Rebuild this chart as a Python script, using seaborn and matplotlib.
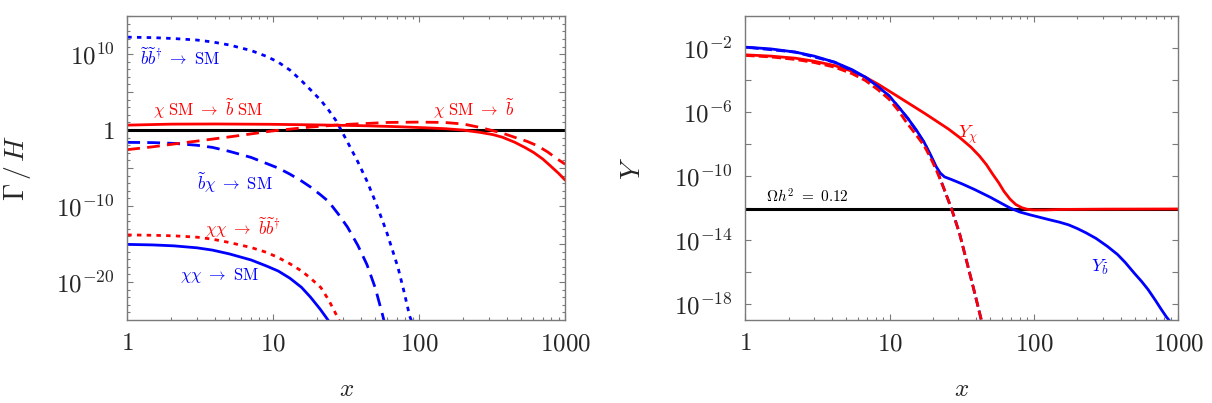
import numpy as np
import matplotlib
matplotlib.use("Agg")
import matplotlib.pyplot as plt
import matplotlib.ticker as mticker
import seaborn as sns

sns.set_style("ticks")
plt.rcParams["mathtext.fontset"] = "cm"
plt.rcParams["font.family"] = ["DejaVu Serif"]

# ---- left panel: Gamma/H (values stored as log10 exponents)
x_bb_sm = [1, 1.5, 2.08, 3, 3.83, 5, 7.05, 9, 10.8, 13, 15.6, 18, 21.2, 24, 27, 32.3, 38, 43.8, 50,
           59.5, 65, 71.5, 78, 86, 90]
e_bb_sm = [12.23, 12.17, 12.05, 11.85, 11.6, 11.2, 10.47, 9.7, 8.95, 7.9, 6.5, 5.3, 3.9, 2.6, 1.2, -1.6,
           -4.2, -6.7, -9.4, -13.3, -15.6, -18.1, -21.0, -24.5, -25.5]

x_chism_bsm = [1, 2, 4, 9.5, 20, 40, 70, 110, 150, 200, 260, 320, 372, 450, 530, 607, 700, 790, 900, 1000]
e_chism_bsm = [0.65, 0.78, 0.8, 0.76, 0.68, 0.58, 0.45, 0.3, 0.18, 0.0, -0.3, -0.6, -0.95, -1.6, -2.3,
               -2.95, -3.8, -4.7, -5.7, -6.6]

x_chism_b = [1, 1.5, 2.08, 3, 5, 10, 18, 30, 60, 100, 149, 200, 260, 307, 370, 450, 550, 650, 760, 880, 1000]
e_chism_b = [-2.58, -2.2, -1.84, -1.45, -0.9, -0.1, 0.4, 0.72, 1.0, 1.05, 1.0, 0.8, 0.35, 0.0, -0.4, -0.95,
             -1.5, -2.1, -2.9, -3.8, -4.5]

x_bchi_sm = [1, 1.5, 2.08, 3, 3.83, 5, 7.05, 9, 10.8, 13, 15.6, 18, 21, 23.9, 28, 32.3, 38, 43.8, 50, 56, 58]
e_bchi_sm = [-1.62, -1.65, -1.75, -2.0, -2.28, -2.8, -3.6, -4.4, -5.0, -5.8, -6.7, -7.5, -8.5, -9.4, -11.1,
             -12.8, -15.2, -17.7, -20.8, -24.3, -25.5]

x_chichi_bb = [1, 1.5, 2.08, 3, 3.83, 5, 7.05, 9, 10.8, 13, 15.6, 18, 21.2, 24, 27, 28.5]
e_chichi_bb = [-13.8, -13.85, -13.92, -14.1, -14.36, -14.8, -15.46, -16.1, -16.78, -17.6, -18.54, -19.5,
               -20.74, -22.4, -24.3, -25.2]

x_chichi_sm = [1, 1.5, 2.08, 3, 3.83, 5, 7.05, 9, 10.8, 13, 15.6, 18, 21, 23.9]
e_chichi_sm = [-15.05, -15.12, -15.24, -15.5, -15.8, -16.3, -17.1, -17.9, -18.55, -19.5, -20.7, -22.0,
               -23.6, -25.1]

gamma_ref = 1.0

# ---- right panel: yields Y
x_yb = [1, 1.5, 2.22, 3, 4.15, 5.5, 6.8, 8.3, 9.9, 11.6, 13.5, 15.4, 17.4, 19.3, 21, 22.4, 24, 26.9, 32,
        39, 50, 60, 68.5, 80, 93.6, 110, 128, 150, 174, 200, 230, 270, 324, 380, 430, 500, 560, 620, 700,
        760, 830, 900]
e_yb = [-1.94, -2.05, -2.25, -2.5, -2.88, -3.35, -3.82, -4.4, -4.98, -5.7, -6.44, -7.15, -7.91, -8.7,
        -9.4, -9.8, -10.05, -10.22, -10.5, -10.85, -11.33, -11.72, -12.0, -12.25, -12.42, -12.58, -12.73,
        -12.88, -13.05, -13.28, -13.55, -13.9, -14.4, -14.9, -15.4, -16.1, -16.6, -17.1, -17.8, -18.3,
        -18.81, -19.2]

x_ychi = [1, 1.5, 2.22, 3, 4.15, 5.5, 6.8, 8.3, 9.9, 12, 14.4, 17.5, 21, 25.5, 30.5, 36.7, 42, 47, 52,
          56.9, 62, 68.5, 75, 82.6, 90, 99.6, 120, 150, 300, 1000]
e_ychi = [-2.42, -2.5, -2.63, -2.82, -3.09, -3.45, -3.82, -4.25, -4.68, -5.15, -5.6, -6.08, -6.55, -7.05,
          -7.58, -8.2, -8.75, -9.3, -9.9, -10.4, -10.95, -11.45, -11.78, -11.98, -12.08, -12.12, -12.12,
          -12.09, -12.07, -12.06]

x_ychi_eq = [1, 1.5, 2.22, 3, 4.15, 5.5, 6.8, 8.3, 9.9, 11.5, 13.1, 15.2, 17.4, 19.2, 21, 23.7, 26.9,
             30.5, 34.5, 39, 43.5]
e_ychi_eq = [-2.46, -2.55, -2.71, -2.9, -3.19, -3.6, -4.03, -4.6, -5.19, -5.9, -6.65, -7.4, -8.12, -8.85,
             -9.59, -10.74, -12.06, -13.57, -15.46, -17.35, -19.1]

x_yb_eq = [1, 2.22, 4.15, 6.8, 9.9, 13.5, 17.4, 21, 23.7, 26.9, 30.5, 34.5, 39, 43.5]
e_yb_eq = [-1.94, -2.25, -2.88, -3.82, -4.98, -6.44, -7.91, -9.48, -10.74, -12.06, -13.57, -15.46, -17.35,
           -19.1]

omega_y = 8.7e-13

RED = "#ff0000"
BLUE = "#0000ff"
FRAME = "#7a7a7a"


def curve(ax, xs, es, color, ls="-", lw=2.0):
    sns.lineplot(x=np.array(xs, float), y=10.0 ** np.array(es, float), ax=ax,
                 color=color, linestyle=ls, lw=lw, sort=True, estimator=None)


def style_axes(ax, ymaj, ylab_vals, ymin_locs):
    ax.set_xscale("log")
    ax.set_yscale("log")
    ax.set_xlim(1, 1000)
    ax.xaxis.set_major_locator(mticker.FixedLocator([1, 10, 100, 1000]))
    ax.xaxis.set_major_formatter(mticker.FixedFormatter(["$1$", "$10$", "$100$", "$1000$"]))
    ax.xaxis.set_minor_locator(mticker.LogLocator(base=10, subs=np.arange(2, 10)))
    ax.xaxis.set_minor_formatter(mticker.NullFormatter())
    ax.yaxis.set_major_locator(mticker.FixedLocator([10.0 ** e for e in ymaj]))
    ax.yaxis.set_major_formatter(mticker.FixedFormatter(ylab_vals))
    ax.yaxis.set_minor_locator(mticker.FixedLocator([10.0 ** e for e in ymin_locs]))
    ax.yaxis.set_minor_formatter(mticker.NullFormatter())
    ax.tick_params(which="both", direction="in", top=True, right=True, color=FRAME, width=0.8)
    ax.tick_params(which="major", length=4.5, labelsize=18, pad=9)
    ax.tick_params(which="minor", length=2.5)
    for s in ax.spines.values():
        s.set_color(FRAME)
        s.set_linewidth(1.0)


fig = plt.figure(figsize=(12.12, 4.03), dpi=100)
ax1 = fig.add_axes([0.105, 0.206, 0.3614, 0.754])
ax2 = fig.add_axes([0.615, 0.206, 0.357, 0.754])

# ---------- left
ax1.axhline(gamma_ref, color="black", lw=2.2, zorder=1)
curve(ax1, x_bb_sm, e_bb_sm, BLUE, (0, (1.6, 1.9)))
curve(ax1, x_chichi_bb, e_chichi_bb, RED, (0, (1.6, 1.9)))
curve(ax1, x_chichi_sm, e_chichi_sm, BLUE)
curve(ax1, x_bchi_sm, e_bchi_sm, BLUE, (0, (4.6, 2.6)))
curve(ax1, x_chism_b, e_chism_b, RED, (0, (4.6, 2.6)))
curve(ax1, x_chism_bsm, e_chism_bsm, RED)

major_l = [-20, -15, -10, -5, 0, 5, 10, 15]
labels_l = [r"$10^{-20}$", "", r"$10^{-10}$", "", r"$1$", "", r"$10^{10}$", ""]
minor_l = [e for e in range(-25, 16) if e % 5 != 0]
style_axes(ax1, major_l, labels_l, minor_l)
ax1.set_ylim(1e-25, 1e15)

fs = 12
ax1.text(1.22, 10 ** 9.4, r"$\widetilde{b}\widetilde{b}^{\dagger}\ \to\ \mathrm{SM}$", color=BLUE, fontsize=fs, va="center")
ax1.text(1.5, 10 ** 2.8, r"$\chi\ \mathrm{SM}\ \to\ \widetilde{b}\ \mathrm{SM}$", color=RED, fontsize=fs, va="center")
ax1.text(124, 10 ** 2.8, r"$\chi\ \mathrm{SM}\ \to\ \widetilde{b}$", color=RED, fontsize=fs, va="center")
ax1.text(3.0, 10 ** -7.0, r"$\widetilde{b}\chi\ \to\ \mathrm{SM}$", color=BLUE, fontsize=fs, va="center")
ax1.text(3.4, 10 ** -12.9, r"$\chi\chi\ \to\ \widetilde{b}\widetilde{b}^{\dagger}$", color=RED, fontsize=fs, va="center")
ax1.text(2.3, 10 ** -19.2, r"$\chi\chi\ \to\ \mathrm{SM}$", color=BLUE, fontsize=fs, va="center")

ax1.set_xlabel(r"$x$", fontsize=18)
ax1.set_ylabel(r"$\Gamma\,/\,H$", fontsize=20)
ax1.xaxis.set_label_coords(0.5, -0.19)
ax1.yaxis.set_label_coords(-0.215, 0.5)

# ---------- right
ax2.axhline(omega_y, color="black", lw=2.2, zorder=1)
curve(ax2, x_ychi, e_ychi, RED)
curve(ax2, x_yb, e_yb, BLUE)
curve(ax2, x_yb_eq, e_yb_eq, BLUE, (3.3, (3.3, 1.5)))
curve(ax2, x_ychi_eq, e_ychi_eq, RED, (0, (3.3, 1.5)))

major_r = [-18, -16, -14, -12, -10, -8, -6, -4, -2]
labels_r = [r"$10^{-18}$", "", r"$10^{-14}$", "", r"$10^{-10}$", "", r"$10^{-6}$", "", r"$10^{-2}$"]
style_axes(ax2, major_r, labels_r, [])
ax2.set_ylim(1e-19, 1)

ax2.text(1.38, 10 ** -11.3, r"$\Omega h^2\ =\ 0.12$", color="black", fontsize=11, va="center")
ax2.text(30, 10 ** -7.4, r"$Y_{\chi}$", color=RED, fontsize=13, va="center")
ax2.text(250, 10 ** -15.7, r"$Y_{\widetilde{b}}$", color=BLUE, fontsize=13, va="center")

ax2.set_xlabel(r"$x$", fontsize=18)
ax2.set_ylabel(r"$Y$", fontsize=20)
ax2.xaxis.set_label_coords(0.5, -0.19)
ax2.yaxis.set_label_coords(-0.23, 0.5)

fig.savefig("out.png", dpi=100)
